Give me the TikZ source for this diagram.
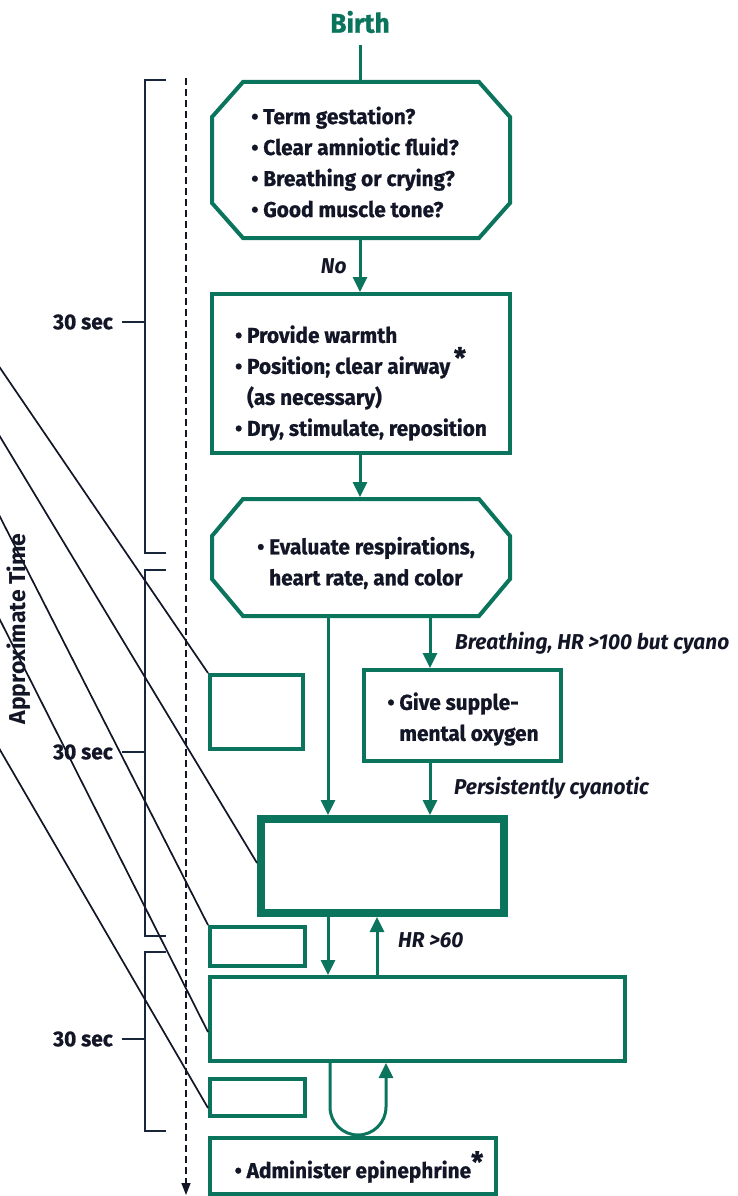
\documentclass[tikz,border=0pt]{standalone}
\usepackage{fontspec}
\setmainfont{Fira Sans}[FakeStretch=0.97]
\newfontfamily\heavyfont{Fira Sans}[FakeStretch=0.97, BoldFeatures={FakeBold=0.8}]
\newfontfamily\axisfont{Fira Sans}
\usetikzlibrary{arrows.meta,calc}

\definecolor{flowgreen}{RGB}{10,116,92}
\definecolor{ink}{RGB}{18,22,38}
\definecolor{rule}{RGB}{25,38,58}

\newcommand\bul{\makebox[12pt][l]{•}}
\newcommand\hang{\hspace*{12pt}}
\newcommand\astmark{\raisebox{6pt}{\fontsize{28}{28}\selectfont *}}

\tikzset{
  box/.style={draw=flowgreen, line width=4pt, rectangle},
  heavybox/.style={draw=flowgreen, line width=8pt, rectangle},
  octframe/.style={rectangle, line width=4pt},
  octline/.style={draw=flowgreen, line width=4pt, line join=miter},
  body/.style={text=ink, font=\heavyfont\bfseries\fontsize{21.5}{31}\selectfont, align=left, inner sep=0pt},
  cue/.style={text=ink, font=\heavyfont\bfseries\itshape\fontsize{21.5}{25}\selectfont, inner sep=0pt},
  flow/.style={draw=flowgreen, line width=3pt, -{Triangle[length=15pt,width=14pt]}},
  plainflow/.style={draw=flowgreen, line width=3pt},
  bracket/.style={draw=rule, line width=1.6pt},
  slant/.style={draw=ink, line width=1.7pt},
  timeaxis/.style={draw=ink, line width=1.4pt, dash pattern=on 7pt off 4pt, -{Triangle[length=12pt,width=9pt]}},
  timelabel/.style={text=ink, font=\heavyfont\bfseries\fontsize{21.5}{25}\selectfont, inner sep=0pt}
}

\begin{document}
\begin{tikzpicture}[x=1pt,y=-1pt]
\useasboundingbox (0,0) rectangle (737,1196);

% ---------- main column ----------
\node[text=flowgreen, font=\heavyfont\bfseries\fontsize{27}{30}\selectfont, inner sep=0pt] (birth) at (360,22) {Birth};

\node[octframe, minimum width=298, minimum height=156] (oct1) at (361,160) {};
\draw[octline] ($(oct1.north west)+(33,2)$) -- ($(oct1.north east)+(-33,2)$)
  -- ($(oct1.north east)+(-2,37)$) -- ($(oct1.south east)+(-2,-37)$)
  -- ($(oct1.south east)+(-33,-2)$) -- ($(oct1.south west)+(33,-2)$)
  -- ($(oct1.south west)+(2,-37)$) -- ($(oct1.north west)+(2,37)$) -- cycle;
\node[body] (oct1txt) at (355,162) {\bul Term gestation?\\ \bul Clear amniotic fluid?\\ \bul Breathing or crying?\\ \bul Good muscle tone?};

\node[box, minimum width=298, minimum height=159] (care) at (361,373.5) {};
\node[body] (caretxt) at (361,383) {\bul Provide warmth\\ \bul Position; clear airway\,\astmark\\ \hang(as necessary)\\ \bul Dry, stimulate, reposition};

\node[octframe, minimum width=298, minimum height=117] (oct2) at (361,557.5) {};
\draw[octline] ($(oct2.north west)+(33,2)$) -- ($(oct2.north east)+(-33,2)$)
  -- ($(oct2.north east)+(-2,39)$) -- ($(oct2.south east)+(-2,-39)$)
  -- ($(oct2.south east)+(-33,-2)$) -- ($(oct2.south west)+(33,-2)$)
  -- ($(oct2.south west)+(2,-39)$) -- ($(oct2.north west)+(2,39)$) -- cycle;
\node[body] (oct2txt) at (366,563) {\bul Evaluate respirations,\\ \hang heart rate, and color};

\node[box, minimum width=197, minimum height=91] (oxy) at (462.5,715.5) {};
\node[body] (oxytxt) at (463,719) {\bul Give supple-\\ \hang mental oxygen};

\node[box, minimum width=93, minimum height=74] (lbox1) at (256.5,712) {};
\node[heavybox, minimum width=243, minimum height=94] (heavy) at (382.5,866) {};
\node[box, minimum width=95, minimum height=39] (lbox2) at (257.5,946.5) {};
\node[box, minimum width=415, minimum height=84] (big) at (417.5,1019) {};
\node[box, minimum width=95, minimum height=37] (lbox3) at (257.5,1097.5) {};
\node[box, minimum width=286, minimum height=56] (epi) at (353,1166) {};
\node[body] (epitxt) at (359,1167) {\bul Administer epinephrine\astmark};

% columns of the vertical connectors
\coordinate (colA) at (328,0);
\coordinate (colB) at (430,0);
\coordinate (colC) at (377,0);
\coordinate (colL) at (330,0);
\coordinate (colR) at (386,0);

\draw[plainflow] (birth.south |- 0,45) -- (oct1.north -| birth.south);
\draw[flow] (oct1.south -| birth.south) -- (care.north -| birth.south)
  node[cue, pos=0.5, left=12pt] (no) {No};
\draw[flow] (care.south -| birth.south) -- (oct2.north -| birth.south);
\draw[flow] (oct2.south -| colA) -- (heavy.north -| colA);
\draw[flow] (oct2.south -| colB) -- (oxy.north -| colB);
\draw[flow] (oxy.south -| colB) -- (heavy.north -| colB);
\draw[flow] (heavy.south -| colA) -- (big.north -| colA);
\draw[flow] (big.north -| colC) -- (heavy.south -| colC);
\draw[flow] (big.south -| colL) -- ++(0,44) arc[start angle=180, end angle=360, radius=28pt]
  -- (big.south -| colR);

\node[cue, anchor=west] (cueA) at (455,643) {Breathing, HR >100 but cyano};
\node[cue, anchor=west] (cueB) at (454,788) {Persistently cyanotic};
\node[cue, anchor=west] (cueC) at (398,940) {HR >60};

% ---------- time scale ----------
\coordinate (axisTop) at (186,78);
\coordinate (axisEnd) at (186,1195);
\draw[timeaxis] (axisTop) -- (axisEnd);

\draw[bracket] (166,80) -- (145,80) -- (145,553) -- (166,553);
\draw[bracket] (166,570) -- (145,570) -- (145,936) -- (166,936);
\draw[bracket] (166,952) -- (145,952) -- (145,1131) -- (166,1131);
\draw[bracket] (122,322) -- (145,322);
\draw[bracket] (122,752) -- (145,752);
\draw[bracket] (122,1039) -- (145,1039);
\node[timelabel, anchor=east] (t1) at (113,322) {30 sec};
\node[timelabel, anchor=east] (t2) at (113,752) {30 sec};
\node[timelabel, anchor=east] (t3) at (113,1039) {30 sec};
\node[text=ink, font=\axisfont\bfseries\fontsize{23}{26}\selectfont, inner sep=0pt, rotate=90] (axisname) at (19,629) {Approximate Time};

% ---------- slanted leaders ----------
\coordinate (s1) at (-4,362);
\coordinate (s2) at (-4,430);
\coordinate (s3) at (-4,509);
\coordinate (s4) at (-4,612);
\coordinate (s5) at (-4,743);
\draw[slant] (s1) -- (lbox1.north west);
\draw[slant] (s2) -- (heavy.west |- 0,863);
\draw[slant] (s3) -- (lbox2.north west);
\draw[slant] (s4) -- (big.west |- 0,1032);
\draw[slant] (s5) -- (lbox3.west |- 0,1108);
\end{tikzpicture}
\end{document}
